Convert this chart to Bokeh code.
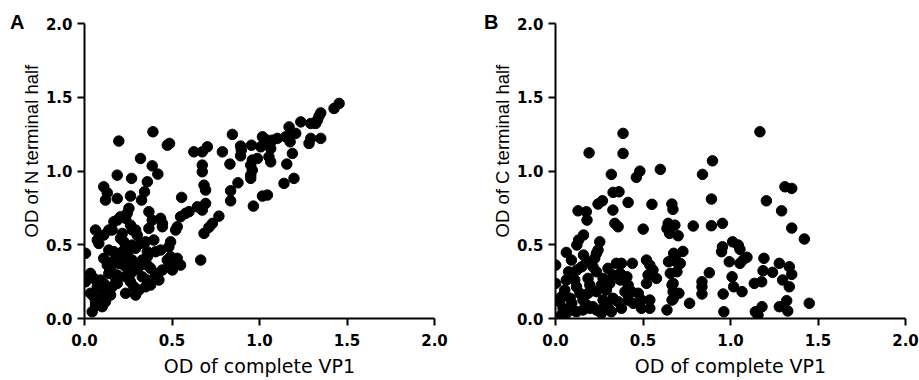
from bokeh.plotting import figure
from bokeh.layouts import row
from bokeh.models import Range1d, Title, FixedTicker, NumeralTickFormatter, Div
from bokeh.embed import file_html
from bokeh.resources import INLINE

# ---------------- data ----------------
ticks = [0.0, 0.5, 1.0, 1.5, 2.0]
x_title = "OD of complete VP1"
a_title = "OD of N terminal half"
b_title = "OD of C terminal half"

a_x = [1.455, 1.426, 1.350, 1.340, 1.331, 1.321, 1.293, 1.236, 1.169, 1.207,
       1.179, 1.150, 1.175, 1.102, 1.074, 1.045, 1.017, 0.845, 1.350, 1.293,
       1.283, 1.007, 1.064, 0.954, 0.892, 0.896, 0.892, 0.788, 0.702, 0.673,
       1.188, 0.988, 0.959, 0.950, 1.054, 1.064, 0.831, 1.156, 0.959, 0.950,
       0.950, 0.673, 0.673, 1.197, 1.140, 0.877, 0.683, 0.692, 0.835, 0.835,
       1.045, 1.017, 0.965, 0.692, 0.673, 0.768, 0.731, 0.711, 0.683, 0.664,
       0.196, 0.391, 0.473, 0.486, 0.625, 0.320, 0.387, 0.419, 0.187, 0.269,
       0.359, 0.343, 0.110, 0.130, 0.263, 0.326, 0.187, 0.555, 0.120, 0.254,
       0.244, 0.235, 0.206, 0.187, 0.168, 0.368, 0.645, 0.597, 0.578, 0.549,
       0.445, 0.445, 0.368, 0.530, 0.521, 0.063, 0.110, 0.158, 0.216, 0.206,
       0.225, 0.292, 0.301, 0.073, 0.082, 0.492, 0.482, 0.435, 0.406, 0.473,
       0.530, 0.502, 0.359, 0.359, 0.330, 0.006, 0.139, 0.168, 0.187, 0.110,
       0.130, 0.149, 0.216, 0.254, 0.273, 0.225, 0.244, 0.273, 0.301, 0.359,
       0.378, 0.416, 0.330, 0.359, 0.254, 0.263, 0.282, 0.235, 0.034, 0.053,
       0.006, 0.092, 0.110, 0.130, 0.177, 0.187, 0.034, 0.053, 0.063, 0.082,
       0.101, 0.044, 0.110, 0.139, 0.158, 0.073, 0.149, 0.120, 0.435, 0.387,
       0.263, 0.396, 0.349, 0.320, 0.273, 0.292, 0.235, 0.216, 0.492, 0.511,
       0.549, 0.406, 0.425, 0.349, 0.378, 0.311, 0.292,
       0.139, 0.273, 0.254, 0.158, 0.196, 0.311, 0.139, 0.187, 0.235, 0.101,
       0.092, 0.063, 0.406, 0.445, 0.482, 0.502]
a_y = [1.458, 1.424, 1.394, 1.372, 1.345, 1.322, 1.322, 1.333, 1.299, 1.255,
       1.243, 1.232, 1.198, 1.221, 1.209, 1.209, 1.232, 1.248, 1.221, 1.221,
       1.187, 1.164, 1.153, 1.175, 1.169, 1.142, 1.103, 1.130, 1.164, 1.130,
       1.119, 1.085, 1.074, 1.040, 1.096, 1.062, 1.047, 1.047, 1.006, 0.972,
       0.950, 1.040, 0.995, 0.950, 0.916, 0.920, 0.904, 0.871, 0.866, 0.798,
       0.837, 0.830, 0.762, 0.780, 0.735, 0.694, 0.645, 0.618, 0.577, 0.396,
       1.203, 1.266, 1.175, 1.187, 1.130, 1.085, 1.035, 0.979, 0.972, 0.950,
       0.927, 0.859, 0.893, 0.852, 0.830, 0.803, 0.814, 0.821, 0.803, 0.747,
       0.713, 0.679, 0.690, 0.667, 0.656, 0.724, 0.757, 0.724, 0.713, 0.690,
       0.645, 0.622, 0.611, 0.622, 0.600, 0.600, 0.566, 0.600, 0.577, 0.543,
       0.520, 0.600, 0.566, 0.532, 0.509, 0.520, 0.486, 0.464, 0.453, 0.396,
       0.408, 0.329, 0.453, 0.419, 0.396, 0.442, 0.464, 0.453, 0.419, 0.408,
       0.362, 0.329, 0.419, 0.408, 0.396, 0.362, 0.340, 0.317, 0.340, 0.362,
       0.340, 0.295, 0.283, 0.261, 0.283, 0.249, 0.215, 0.171, 0.306, 0.272,
       0.249, 0.261, 0.238, 0.215, 0.272, 0.238, 0.171, 0.148, 0.114, 0.091,
       0.080, 0.046, 0.148, 0.193, 0.215, 0.215, 0.159, 0.114, 0.679, 0.667,
       0.633, 0.532, 0.520, 0.509, 0.498, 0.476, 0.486, 0.453, 0.419, 0.396,
       0.362, 0.283, 0.261, 0.215, 0.227, 0.193, 0.159,
       0.600, 0.600, 0.464, 0.385, 0.374, 0.351, 0.306, 0.295, 0.283, 0.193,
       0.125, 0.091, 0.306, 0.329, 0.351, 0.385]

b_x = [0.386, 0.192, 0.386, 0.482, 0.462, 0.319, 0.599, 0.329, 0.363, 0.268,
       0.243, 0.415, 0.551, 0.129, 0.176, 0.180, 0.328, 0.665, 0.671, 0.339,
       0.358, 0.501, 0.644, 0.682, 1.168, 0.897, 0.840, 1.311, 1.350, 0.891,
       1.205, 1.292, 0.891, 0.954, 0.787, 0.701, 1.350, 1.422, 1.012, 1.044,
       1.054, 0.954, 0.949, 0.728, 0.685, 1.094, 1.075, 1.054, 0.993, 1.191,
       1.279, 1.336, 1.350, 1.186, 1.240, 0.690, 0.694, 0.879, 1.009, 1.298,
       0.837, 0.837, 0.837, 1.018, 1.066, 1.136, 1.178, 1.336, 0.672, 0.672,
       0.705, 0.958, 0.766, 0.672, 0.962, 1.142, 1.157, 1.180, 1.279, 1.321,
       1.327, 1.450, 0.637, 0.652, 0.160, 0.132, 0.122, 0.253, 0.243, 0.234,
       0.062, 0.091, 0.001, 0.001, 0.160, 0.179, 0.150, 0.122, 0.075, 0.224,
       0.214, 0.234, 0.348, 0.377, 0.439, 0.520, 0.539, 0.557, 0.577, 0.300,
       0.329, 0.272, 0.262, 0.291, 0.062, 0.053, 0.034, 0.024, 0.110, 0.120,
       0.139, 0.157, 0.196, 0.186, 0.043, 0.062, 0.034, 0.100, 0.120, 0.157,
       0.214, 0.234, 0.272, 0.262, 0.329, 0.358, 0.377, 0.397, 0.435, 0.473,
       0.415, 0.444, 0.491, 0.539, 0.539, 0.491, 0.520, 0.529, 0.637, 0.666,
       0.666, 0.656, 0.646, 0.666, 0.675, 0.713, 0.370, 0.408, 0.370, 0.300,
       0.319, 0.179, 0.196, 0.084, 0.093,
       0.186, 0.234, 0.272, 0.310, 0.415]
b_y = [1.255, 1.123, 1.119, 0.999, 0.957, 0.977, 1.011, 0.855, 0.859, 0.798,
       0.776, 0.787, 0.774, 0.730, 0.724, 0.667, 0.735, 0.776, 0.740, 0.645,
       0.622, 0.606, 0.645, 0.633, 1.266, 1.069, 0.977, 0.893, 0.882, 0.810,
       0.798, 0.730, 0.629, 0.645, 0.627, 0.561, 0.613, 0.539, 0.520, 0.498,
       0.469, 0.486, 0.453, 0.455, 0.425, 0.415, 0.401, 0.374, 0.385, 0.408,
       0.374, 0.351, 0.299, 0.324, 0.313, 0.385, 0.317, 0.310, 0.283, 0.261,
       0.249, 0.215, 0.166, 0.215, 0.182, 0.238, 0.249, 0.215, 0.238, 0.182,
       0.171, 0.166, 0.103, 0.132, 0.046, 0.046, 0.024, 0.080, 0.080, 0.121,
       0.051, 0.103, 0.611, 0.577, 0.566, 0.532, 0.498, 0.520, 0.464, 0.442,
       0.448, 0.396, 0.362, 0.238, 0.430, 0.385, 0.351, 0.329, 0.317, 0.408,
       0.351, 0.317, 0.374, 0.374, 0.374, 0.396, 0.362, 0.329, 0.272, 0.340,
       0.295, 0.272, 0.227, 0.193, 0.261, 0.193, 0.148, 0.114, 0.261, 0.215,
       0.171, 0.125, 0.227, 0.171, 0.069, 0.035, 0.024, 0.058, 0.046, 0.058,
       0.080, 0.058, 0.069, 0.035, 0.137, 0.114, 0.069, 0.182, 0.182, 0.171,
       0.125, 0.103, 0.069, 0.069, 0.125, 0.125, 0.238, 0.295, 0.058, 0.125,
       0.227, 0.306, 0.385, 0.396, 0.442, 0.374, 0.261, 0.283, 0.306, 0.080,
       0.046, 0.091, 0.069, 0.137, 0.103,
       0.272, 0.182, 0.125, 0.238, 0.227]


def make_panel(xs, ys, ytitle, right_border):
    p = figure(frame_width=350, frame_height=295,
               x_range=Range1d(0.0, 2.0), y_range=Range1d(0.0, 2.0),
               output_backend="svg", toolbar_location=None,
               min_border_left=72, min_border_right=right_border,
               min_border_top=23, min_border_bottom=61)
    p.outline_line_color = None
    p.border_fill_color = None
    p.xgrid.visible = False
    p.ygrid.visible = False
    p.scatter(xs, ys, size=10.5, fill_color="black", line_color="black")
    for ax in (p.xaxis[0], p.yaxis[0]):
        ax.ticker = FixedTicker(ticks=ticks)
        ax.formatter = NumeralTickFormatter(format="0.0")
        ax.minor_tick_line_color = None
        ax.axis_line_width = 2
        ax.axis_line_color = "black"
        ax.major_tick_line_width = 2
        ax.major_tick_line_color = "black"
        ax.major_tick_out = 7
        ax.major_tick_in = 0
        ax.major_label_standoff = 5
        ax.major_label_text_font = "DejaVu Sans"
        ax.major_label_text_font_style = "bold"
        ax.major_label_text_font_size = "15px"
        ax.major_label_text_color = "black"
    p.xaxis.major_label_standoff = 8
    p.xaxis.axis_label = x_title
    p.xaxis.axis_label_text_font = "DejaVu Sans"
    p.xaxis.axis_label_text_font_style = "normal"
    p.xaxis.axis_label_text_font_size = "19px"
    p.xaxis.axis_label_text_color = "black"
    p.xaxis.axis_label_standoff = 6
    t = Title(text=ytitle, align="left", offset=81,
              text_font="Liberation Sans", text_font_style="normal",
              text_font_size="18.5px", text_color="black")
    if "standoff" in Title.properties():
        t.standoff = 2
    p.add_layout(t, "left")
    return p


def letter(txt, w, dx):
    return Div(text='<span style="position:relative;left:%dpx;top:12px">%s</span>' % (dx, txt),
               width=w, height=30, margin=0,
               styles={"font-family": "Liberation Sans", "font-weight": "bold",
                       "font-size": "20px", "line-height": "20px",
                       "overflow": "visible", "white-space": "nowrap",
                       "color": "black"})


pa = make_panel(a_x, a_y, a_title, 37)
pb = make_panel(b_x, b_y, b_title, 14)
layout = row(letter("A", 12, 10), pa, letter("B", 12, 13), pb)
open("out.html", "w").write(file_html(layout, INLINE))
